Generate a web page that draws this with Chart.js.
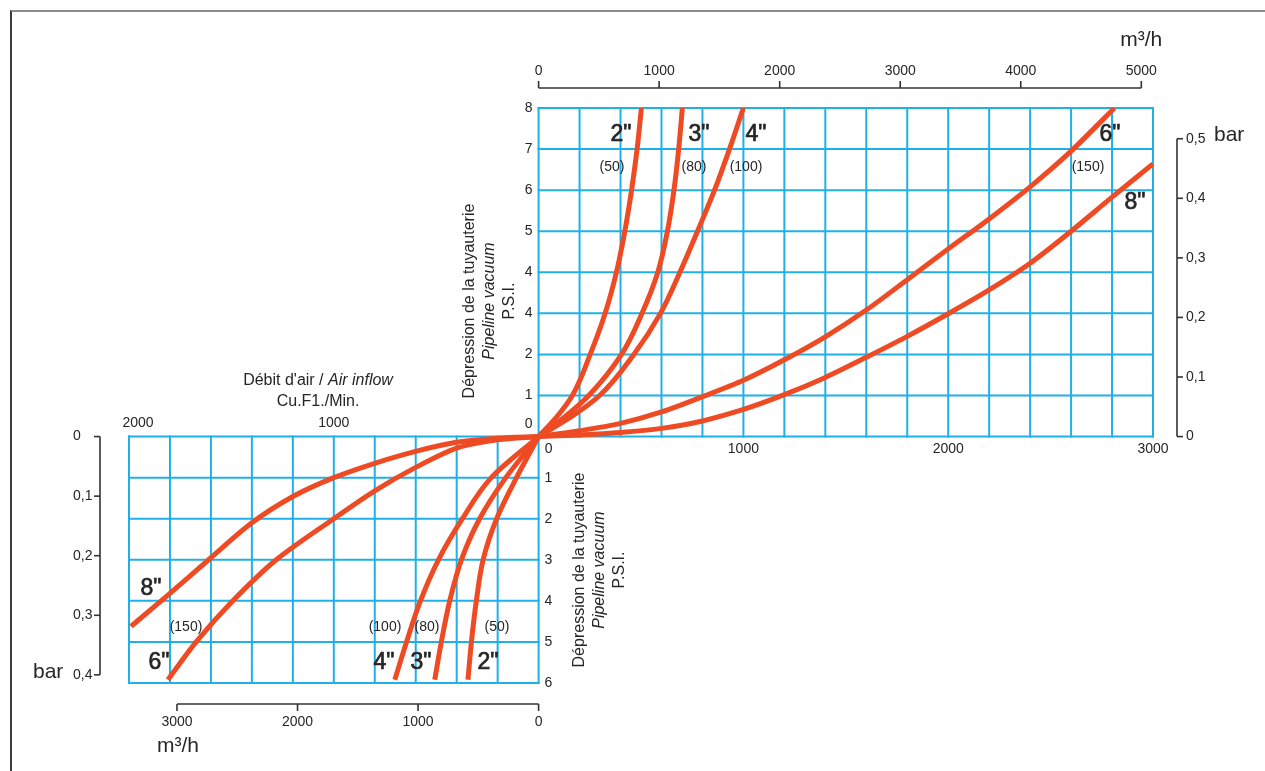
<!DOCTYPE html>
<html>
<head>
<meta charset="utf-8">
<script src="https://cdn.jsdelivr.net/npm/chart.js@4.4.1/dist/chart.umd.min.js"></script>
<style>
  html, body { margin: 0; padding: 0; background: #fff; }
  #wrap { position: relative; width: 1265px; height: 771px; overflow: hidden; }
  #frame { position: absolute; left: 10px; top: 10px; right: 0; bottom: 0; border-top: 2px solid #8c8c8c; border-left: 2px solid #3c3c3c; }
  #chart { position: absolute; left: 0; top: 0; }
</style>
</head>
<body>
<div id="wrap"><div id="frame"></div><canvas id="chart" width="1265" height="771"></canvas></div>
<script>
// pipe sizes
var pipeNames = ['2"', '3"', '4"', '6"', '8"'];
var pipeMm = ['(50)', '(80)', '(100)', '(150)', ''];

// upper right quadrant, [Cu.Ft/min, psi]
var up2 = [[0, 0], [92, 0.5], [165, 1], [252, 2], [325, 3], [380, 4], [421, 5], [454, 6], [481, 7], [502, 8]];
var up3 = [[0, 0], [133, 0.5], [245, 1], [405, 2], [505, 3], [582, 4], [629, 5], [661, 6], [684, 7], [702, 8]];
var up4 = [[0, 0], [165, 0.5], [298, 1], [465, 2], [595, 3], [690, 4], [776, 5], [859, 6], [932, 7], [1000, 8]];
var up6 = [[0, 0], [200, 0.14], [400, 0.32], [600, 0.6], [800, 0.97], [1000, 1.37], [1200, 1.87], [1400, 2.43], [1600, 3.08], [1800, 3.82], [2000, 4.57], [2200, 5.3], [2400, 6.08], [2600, 6.95], [2812, 8]];
var up8 = [[0, 0], [200, 0.04], [400, 0.1], [600, 0.2], [800, 0.38], [1000, 0.66], [1200, 1.02], [1400, 1.44], [1600, 1.93], [1800, 2.44], [2000, 2.99], [2200, 3.57], [2400, 4.22], [2600, 5.0], [2800, 5.83], [3000, 6.64]];

// lower left quadrant, [Cu.Ft/min, psi] (drawn negative)
var low2 = [[0, 0], [108, 1], [205, 2], [271, 3], [304, 4], [328, 5], [345, 5.92]];
var low3 = [[0, 0], [160, 1], [288, 2], [377, 3], [434, 4], [475, 5], [507, 5.92]];
var low4 = [[0, 0], [231, 1], [372, 2], [489, 3], [577, 4], [645, 5], [702, 5.92]];
var low6 = [[0, 0], [200, 0.08], [400, 0.28], [600, 0.75], [800, 1.32], [1000, 2.0], [1281, 3], [1493, 4], [1672, 5], [1810, 5.92]];
var low8 = [[0, 0], [200, 0.04], [400, 0.14], [600, 0.36], [800, 0.65], [1000, 1.0], [1200, 1.46], [1400, 2.1], [1600, 2.95], [1800, 3.82], [1990, 4.62]];

// tick labels
var psiUpTicks = ['0', '1', '2', '4', '4', '5', '6', '7', '8'];
var psiDownTicks = ['0', '1', '2', '3', '4', '5', '6'];
var cfmUpTicks = [0, 1000, 2000, 3000];
var cfmDownTicks = [2000, 1000];
var m3UpTicks = [0, 1000, 2000, 3000, 4000, 5000];
var m3DownTicks = [3000, 2000, 1000, 0];
var barUpTicks = [0, 0.1, 0.2, 0.3, 0.4, 0.5];
var barDownTicks = [0, 0.1, 0.2, 0.3, 0.4];

var CFM_TO_M3 = 1.69901;
var PSI_TO_BAR = 0.0689476;

var ORANGE = '#ee4a23', GRID = '#1fb0e8', INK = '#262626';
var FONT = '"Liberation Sans", Arial, sans-serif';

function seg(c, x1, y1, x2, y2) { c.beginPath(); c.moveTo(x1, y1); c.lineTo(x2, y2); c.stroke(); }
function txt(c, s, x, y, size, align, style) {
  c.font = (style || '') + ' ' + size + 'px ' + FONT;
  c.textAlign = align || 'center';
  c.textBaseline = 'middle';
  c.fillText(s, x, y);
}
function tag(c, s, x, y) {
  txt(c, s, x, y, 23);
  c.save(); c.lineWidth = 0.7; c.strokeStyle = INK; c.strokeText(s, x, y); c.restore();
}
function barText(v) { return v === 0 ? '0' : v.toFixed(1).replace('.', ','); }

var gridPlugin = {
  id: 'quadGrid',
  beforeDatasetsDraw: function(chart) {
    var c = chart.ctx, sx = chart.scales.x, sy = chart.scales.y;
    function X(v) { return sx.getPixelForValue(v); }
    function Y(v) { return sy.getPixelForValue(v); }
    c.save();
    c.strokeStyle = GRID; c.lineWidth = 2; c.lineCap = 'square';
    var v, p;
    for (v = 0; v <= 3000; v += 200) seg(c, X(v), Y(0), X(v), Y(8));
    for (p = 0; p <= 8; p++) seg(c, X(0), Y(p), X(3000), Y(p));
    for (v = -2000; v <= 0; v += 200) seg(c, X(v), Y(0), X(v), Y(-6));
    for (p = -6; p <= 0; p++) seg(c, X(-2000), Y(p), X(0), Y(p));
    c.restore();
  }
};

var decorPlugin = {
  id: 'decor',
  afterDatasetsDraw: function(chart) {
    var c = chart.ctx, s = chart.scales;
    function X(v) { return s.x.getPixelForValue(v); }
    function Y(v) { return s.y.getPixelForValue(v); }
    function M(v) { return s.xm3.getPixelForValue(v); }
    function B(v) { return s.ybar.getPixelForValue(v); }
    var x0 = X(0), y0 = Y(0);
    c.save();
    c.fillStyle = INK; c.strokeStyle = '#333'; c.lineWidth = 1.6; c.lineCap = 'butt';

    // psi ticks, upper quadrant
    psiUpTicks.forEach(function(t, i) { txt(c, t, x0 - 6, i === 0 ? y0 - 12 : Y(i), 14, 'right'); });
    // cfm ticks, upper quadrant
    cfmUpTicks.forEach(function(v) { txt(c, String(v), v === 0 ? x0 + 10 : X(v), y0 + 13, 14); });
    // psi ticks, lower quadrant
    psiDownTicks.forEach(function(t, i) { if (i > 0) txt(c, t, x0 + 6, Y(-i), 14, 'left'); });
    // cfm ticks, lower quadrant
    cfmDownTicks.forEach(function(v) { txt(c, String(v), v === 2000 ? X(-v) + 9 : X(-v), y0 - 13, 14); });

    // top m3/h axis
    var ty = Y(8) - 20;
    seg(c, M(0), ty, M(5000), ty);
    m3UpTicks.forEach(function(v) { seg(c, M(v), ty, M(v), ty - 7); txt(c, String(v), M(v), ty - 17, 14); });
    txt(c, 'm\u00b3/h', M(5000), ty - 48, 21);

    // bottom m3/h axis
    var by = Y(-6) + 21;
    seg(c, M(-3000), by, M(0), by);
    m3DownTicks.forEach(function(v) { seg(c, M(-v), by, M(-v), by + 7); txt(c, String(v), M(-v), by + 18, 14); });
    txt(c, 'm\u00b3/h', M(-3000) + 1, by + 42, 21);

    // right bar axis
    var rx = X(3000) + 24;
    seg(c, rx, B(0), rx, B(0.5));
    barUpTicks.forEach(function(v) { seg(c, rx, B(v), rx + 6, B(v)); txt(c, barText(v), rx + 9, B(v), 14, 'left'); });
    txt(c, 'bar', rx + 37, B(0.5) - 4, 21, 'left');

    // left bar axis
    var lx = X(-2000) - 29;
    seg(c, lx, B(0), lx, B(-0.4));
    barDownTicks.forEach(function(v) { seg(c, lx, B(-v), lx - 6, B(-v)); txt(c, barText(v), lx - 27, B(-v), 14, 'left'); });
    txt(c, 'bar', lx - 67, B(-0.4) - 3, 21, 'left');

    // vertical titles
    function vTitle(cx, cy) {
      c.save(); c.translate(cx, cy); c.rotate(-Math.PI / 2);
      txt(c, 'D\u00e9pression de la tuyauterie', 0, -20, 16);
      txt(c, 'Pipeline vacuum', 0, 0, 16, 'center', 'italic');
      txt(c, 'P.S.I.', 0, 20, 16);
      c.restore();
    }
    vTitle(x0 - 49, Y(3.3));
    vTitle(x0 + 61, Y(-3.25));

    // horizontal title of the lower quadrant
    var hx = X(-1077), hy = y0 - 56;
    c.font = '16px ' + FONT;
    var a = 'D\u00e9bit d\'air / ', w1 = c.measureText(a).width;
    c.font = 'italic 16px ' + FONT;
    var w2 = c.measureText('Air inflow').width;
    txt(c, a, hx - (w1 + w2) / 2, hy, 16, 'left');
    txt(c, 'Air inflow', hx - (w1 + w2) / 2 + w1, hy, 16, 'left', 'italic');
    txt(c, 'Cu.F1./Min.', hx, hy + 21, 16);

    // pipe labels
    var small = 14;
    tag(c, pipeNames[0], 621, 135); txt(c, pipeMm[0], 612, 167, small);
    tag(c, pipeNames[1], 699, 135); txt(c, pipeMm[1], 694, 167, small);
    tag(c, pipeNames[2], 756, 135); txt(c, pipeMm[2], 746, 167, small);
    tag(c, pipeNames[3], 1110, 135); txt(c, pipeMm[3], 1088, 167, small);
    tag(c, pipeNames[4], 1135, 203);
    tag(c, pipeNames[4], 151, 589); txt(c, pipeMm[3], 186, 627, small);
    tag(c, pipeNames[3], 159, 663);
    txt(c, pipeMm[2], 385, 627, small); tag(c, pipeNames[2], 384, 663);
    txt(c, pipeMm[1], 427, 627, small); tag(c, pipeNames[1], 421, 663);
    txt(c, pipeMm[0], 497, 627, small); tag(c, pipeNames[0], 488, 663);
    c.restore();
  }
};

// steep curves are smoothed along the psi axis, flat ones along the flow axis
function curve(pts, sign, steep) {
  var d = pts.map(function(p) { return { x: sign * p[0], y: sign * p[1] }; });
  var ds = { data: d, showLine: true, borderColor: ORANGE, borderWidth: 5, pointRadius: 0,
             borderCapStyle: 'butt', fill: false };
  if (steep) { ds.indexAxis = 'y'; ds.cubicInterpolationMode = 'monotone'; }
  else { ds.tension = 0.3; }
  return ds;
}

var sets = [curve(up2, 1, true), curve(up3, 1, true), curve(up4, 1, true), curve(up6, 1), curve(up8, 1),
            curve(low2, -1, true), curve(low3, -1, true), curve(low4, -1, true), curve(low6, -1), curve(low8, -1)];

new Chart(document.getElementById('chart'), {
  type: 'scatter',
  data: { datasets: sets },
  options: {
    responsive: false,
    animation: false,
    devicePixelRatio: 1,
    layout: { padding: { left: 129, top: 108, right: 112, bottom: 88 } },
    plugins: { legend: { display: false }, tooltip: { enabled: false } },
    scales: {
      x: { type: 'linear', min: -2000, max: 3000, display: false },
      y: { type: 'linear', min: -6, max: 8, display: false },
      xm3: { type: 'linear', axis: 'x', position: 'top', min: -2000 * CFM_TO_M3, max: 3000 * CFM_TO_M3, display: false },
      ybar: { type: 'linear', axis: 'y', position: 'right', min: -6 * PSI_TO_BAR, max: 8 * PSI_TO_BAR, display: false }
    }
  },
  plugins: [gridPlugin, decorPlugin]
});
</script>
</body>
</html>
